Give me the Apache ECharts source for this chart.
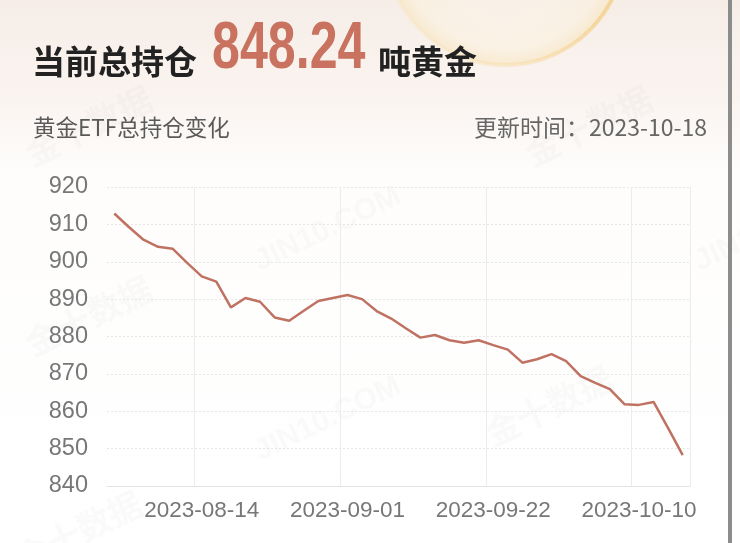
<!DOCTYPE html>
<html>
<head>
<meta charset="utf-8">
<script src="https://cdn.jsdelivr.net/npm/echarts@6/dist/echarts.min.js"></script>
<style>
html,body{margin:0;padding:0;background:#fff;}
#chart{width:740px;height:543px;}
</style>
</head>
<body>
<div id="chart"></div>
<script>
// ---- data ----
var dates = [
  '2023-08-03','2023-08-04','2023-08-07','2023-08-08','2023-08-09','2023-08-11',
  '2023-08-14','2023-08-15','2023-08-16','2023-08-18','2023-08-21','2023-08-22','2023-08-24','2023-08-25','2023-08-28','2023-08-30',
  '2023-09-01','2023-09-05','2023-09-06','2023-09-07','2023-09-11','2023-09-12','2023-09-13','2023-09-15','2023-09-18','2023-09-20',
  '2023-09-22','2023-09-25','2023-09-26','2023-09-27','2023-09-28','2023-09-29','2023-10-02','2023-10-03','2023-10-04','2023-10-06',
  '2023-10-10','2023-10-12','2023-10-13','2023-10-17'
];
var holdings = [
  912.9, 909.3, 905.9, 904.0, 903.5, 899.7,
  896.1, 894.7, 887.8, 890.3, 889.3, 885.1, 884.2, 886.9, 889.5, 890.3,
  891.1, 890.0, 886.8, 884.8, 882.2, 879.7, 880.4, 879.0, 878.3, 879.0,
  877.7, 876.5, 873.0, 873.9, 875.3, 873.4, 869.4, 867.6, 865.9, 861.9,
  861.7, 862.5, 855.5, 848.24
];
var yTicks = [840, 850, 860, 870, 880, 890, 900, 910, 920];
var currentTotal = '848.24';
var updateDate = '2023-10-18';

var firstLabelIdx = 6, labelStep = 10;
function showIdx(i){ return i >= firstLabelIdx && (i - firstLabelIdx) % labelStep === 0; }

var chart = echarts.init(document.getElementById('chart'), null, {renderer:'canvas'});
var latin = '"Liberation Sans","Noto Sans CJK SC",sans-serif';
var cjk = '"Noto Sans CJK SC","Liberation Sans",sans-serif';
var wmColor = 'rgba(120,110,100,0.035)';

var option = {
  backgroundColor: '#ffffff',
  animation: false,
  graphic: [
    {type:'rect', z:-10, silent:true, shape:{x:0,y:0,width:740,height:543},
     style:{fill:new echarts.graphic.LinearGradient(0,0,0,1,[
       {offset:0,color:'#f6ede7'},{offset:0.18,color:'#faf4f0'},{offset:0.32,color:'#fefdfc'},{offset:1,color:'#ffffff'}])}},
    {type:'circle', z:-9, silent:true, shape:{cx:505,cy:-55,r:120},
     style:{fill:new echarts.graphic.RadialGradient(0.5,0.5,0.5,[
       {offset:0,color:'rgba(255,252,245,0.1)'},{offset:0.85,color:'rgba(253,243,222,0.5)'},{offset:1,color:'rgba(248,225,175,0.5)'}]),
       stroke:new echarts.graphic.LinearGradient(0,0,1,0,[
       {offset:0,color:'rgba(248,228,190,0.2)'},{offset:0.6,color:'rgba(246,215,150,0.45)'},{offset:1,color:'rgba(242,198,115,0.7)'}]), lineWidth:4}},
    // watermarks
    {type:'text', z:-5, silent:true, x:20, y:140, rotation:0.45, style:{text:'金十数据', font:'bold 34px '+cjk, fill:wmColor}},
    {type:'text', z:-5, silent:true, x:520, y:140, rotation:0.45, style:{text:'金十数据', font:'bold 34px '+cjk, fill:wmColor}},
    {type:'text', z:-5, silent:true, x:20, y:330, rotation:0.45, style:{text:'金十数据', font:'bold 34px '+cjk, fill:wmColor}},
    {type:'text', z:-5, silent:true, x:480, y:420, rotation:0.45, style:{text:'金十数据', font:'bold 34px '+cjk, fill:wmColor}},
    {type:'text', z:-5, silent:true, x:10, y:545, rotation:0.45, style:{text:'金十数据', font:'bold 34px '+cjk, fill:wmColor}},
    {type:'text', z:-5, silent:true, x:250, y:250, rotation:0.45, style:{text:'JIN10.COM', font:'bold 30px '+latin, fill:wmColor}},
    {type:'text', z:-5, silent:true, x:250, y:440, rotation:0.45, style:{text:'JIN10.COM', font:'bold 30px '+latin, fill:wmColor}},
    {type:'text', z:-5, silent:true, x:690, y:250, rotation:0.45, style:{text:'JIN10.COM', font:'bold 30px '+latin, fill:wmColor}},
    // titles
    {type:'text', x:32, y:61, style:{text:'当前总持仓', font:'bold 33px '+cjk, fill:'#222222', textVerticalAlign:'middle'}},
    {type:'text', x:212, y:50, scaleX:0.76, style:{text:currentTotal, font:'bold 66px "Liberation Sans",sans-serif', fill:'#c8725f', textVerticalAlign:'middle'}},
    {type:'text', x:378, y:61, style:{text:'吨黄金', font:'bold 33px '+cjk, fill:'#222222', textVerticalAlign:'middle'}},
    {type:'text', x:33, y:127, style:{text:'黄金ETF总持仓变化', font:'22.5px '+cjk, fill:'#5a5a5a', textVerticalAlign:'middle'}},
    {type:'text', x:707, y:127, style:{text:'更新时间：'+updateDate, font:'23px '+cjk, fill:'#666666', textAlign:'right', textVerticalAlign:'middle'}},
    // right scroll bar
    {type:'rect', silent:true, shape:{x:728,y:0,width:4,height:543}, style:{fill:'#8c8c8c'}}
  ],
  grid: {left:107, right:50, top:187, bottom:57, containLabel:false},
  xAxis: {
    type:'category',
    data: dates,
    boundaryGap: true,
    axisLine: {show:true, lineStyle:{color:'#e4e4e4', width:1}},
    axisTick: {show:false},
    axisLabel: {
      interval: function(i){ return showIdx(i); },
      color:'#777777', fontSize:22.5, fontFamily:'"Liberation Sans",sans-serif', margin:13
    },
    splitLine: {show:true, interval: function(i){ return showIdx(i); }, lineStyle:{color:'#ececec', width:1}}
  },
  yAxis: [
    {
      type:'value', min:yTicks[0], max:yTicks[yTicks.length-1], interval:10,
      axisLine:{show:false}, axisTick:{show:false},
      axisLabel:{color:'#777777', fontSize:23.5, fontFamily:'"Liberation Sans",sans-serif', margin:19},
      splitLine:{show:true, lineStyle:{color:'#e6e6e6', type:[2,2], width:1}}
    },
    {
      type:'value', position:'right', min:yTicks[0], max:yTicks[yTicks.length-1], interval:10,
      axisLine:{show:true, lineStyle:{color:'#ececec'}}, axisTick:{show:false},
      axisLabel:{show:false}, splitLine:{show:false}
    }
  ],
  series: [{
    type:'line',
    data: holdings,
    yAxisIndex: 0,
    showSymbol:false,
    symbol:'none',
    lineStyle:{color:'#c07262', width:2.5},
    itemStyle:{color:'#c07262'}
  }]
};
chart.setOption(option);
</script>
</body>
</html>
